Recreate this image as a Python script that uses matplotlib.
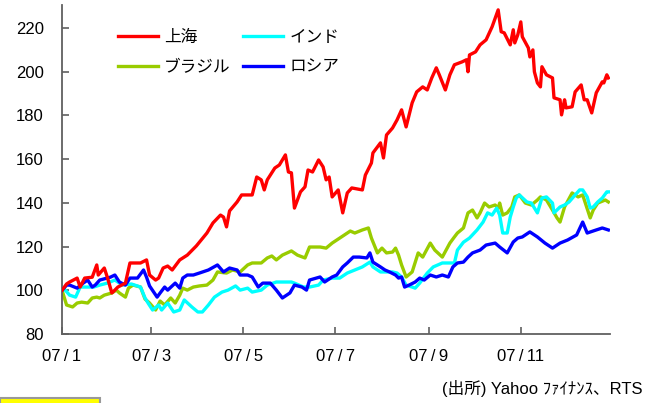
import numpy as np
import pandas as pd
import matplotlib
matplotlib.use("Agg")
import matplotlib.pyplot as plt
from matplotlib.patches import Rectangle

plt.rcParams['font.family'] = ['Liberation Sans', 'Noto Sans CJK JP', 'DejaVu Sans']

start = pd.Timestamp('2007-01-01')

# days since 2007-01-01 / index (start = 100)
sh_days = [0, 3, 5, 10, 12, 15, 20, 23, 24, 28, 30, 33, 35, 37, 42, 45, 52, 56, 58, 62,
           64, 67, 70, 73, 78, 83, 89, 96, 100, 105, 107, 109, 111, 116, 119, 126, 129, 132, 134, 136,
           141, 144, 148, 150, 152, 154, 158, 161, 163, 166, 170, 173, 175, 177, 179, 183, 186, 189, 192, 199,
           201, 205, 206, 211, 213, 215, 219, 222, 225, 228, 232, 235, 239, 242, 245, 248, 250, 254, 257, 260,
           265, 268, 269, 270, 274, 277, 281, 285, 289, 291, 293, 297, 299, 300, 302, 304, 305, 309, 310, 312,
           313, 315, 317, 318, 321, 325, 326, 330, 331, 333, 334, 338, 340, 344, 346, 348, 351, 354, 358, 359,
           361, 362]
sh_vals = [100, 102.9, 103.8, 105.6, 101.5, 105.6, 106, 111.6, 107, 110.2, 106, 98.8, 100.1, 101.5, 103.3, 112.5, 112.5, 113.9, 107, 104.7,
           105.6, 110.2, 111.1, 109.3, 113.9, 116.1, 120.3, 126.2, 130.8, 134.4, 133.5, 129, 136.3, 140.4, 143.6, 143.6, 151.8, 150.5, 145.9, 150.5,
           155.9, 157.3, 161.9, 154.1, 153.7, 137.6, 145, 147.3, 155, 154.1, 159.6, 156.4, 150.5, 151.8, 142.7, 145.9, 135.4, 144.5, 146.8, 145.9,
           152.7, 158.2, 162.8, 167.4, 160.5, 171, 174.2, 177.9, 182.5, 174.7, 185.7, 190.7, 193, 191.6, 197.1, 201.7, 198.5, 191.6, 198.5, 203.1,
           204.4, 205.4, 199.9, 207.6, 209, 212.2, 214.5, 220.5, 228.2, 218.2, 217.7, 212.2, 219.1, 213.1, 216.8, 222.7, 215.9, 210.8, 206.7, 209.9,
           199.9, 194.8, 193, 202.2, 198.5, 197.1, 188, 187.1, 180.2, 187.1, 183.4, 183.9, 190.7, 193.9, 187.1, 187.1, 181.1, 190.3, 195.3, 194.8,
           198.5, 197.1]

in_days = [0, 1, 5, 9, 12, 17, 21, 25, 30, 35, 40, 46, 52, 55, 57, 60, 64, 66, 70, 74,
           78, 81, 86, 90, 93, 97, 101, 106, 110, 115, 118, 123, 126, 132, 136, 142, 152, 154, 160, 164,
           170, 173, 179, 184, 189, 194, 199, 204, 206, 211, 219, 222, 225, 228, 232, 234, 237, 242, 246, 252,
           260, 262, 266, 270, 275, 279, 282, 285, 288, 290, 292, 295, 297, 299, 301, 303, 308, 311, 315, 318,
           321, 325, 326, 330, 333, 336, 340, 343, 345, 348, 350, 352, 355, 358, 361, 362]
in_vals = [100, 101, 97.8, 96.9, 101.5, 101.5, 101.5, 102.4, 103.3, 104.7, 102.4, 102.9, 101.5, 96.5, 94.2, 91, 93.3, 91, 94.2, 90.1,
           91, 95.6, 92.4, 90.1, 90.1, 93.3, 96.9, 99.2, 100.1, 102, 100.1, 101, 99.2, 100.1, 102.4, 103.8, 103.8, 103.3, 101.5, 101.5,
           102.4, 104.7, 105.6, 105.6, 107.9, 109.3, 110.7, 112.9, 110.7, 108.4, 108.4, 107.9, 106.1, 102.4, 101.5, 101, 103.3, 107.9, 110.7, 112.5,
           112.5, 118.4, 122, 123.9, 127.6, 131.2, 135.4, 134.4, 137.6, 134.4, 126.2, 126.2, 133.5, 138.1, 142.2, 143.6, 140.4, 139.9, 135.4, 142.2,
           142.7, 139.9, 135.4, 138.1, 139, 140.4, 143.6, 145.9, 145.9, 142.7, 137.6, 138.1, 140.4, 142.2, 145, 145]

br_days = [0, 3, 7, 10, 13, 17, 20, 23, 25, 28, 33, 36, 38, 42, 44, 47, 52, 55, 58, 62,
           65, 68, 72, 75, 78, 80, 83, 87, 91, 96, 100, 103, 109, 113, 118, 123, 126, 132, 136, 139,
           142, 146, 152, 156, 161, 164, 171, 175, 179, 186, 191, 194, 199, 203, 205, 209, 212, 215, 219, 221,
           223, 225, 228, 232, 236, 239, 244, 247, 252, 257, 260, 262, 266, 269, 272, 275, 277, 280, 283, 287,
           289, 290, 292, 295, 298, 300, 303, 307, 311, 315, 317, 321, 325, 328, 330, 333, 338, 342, 345, 350,
           352, 355, 360, 362]
br_vals = [100, 93.3, 92.4, 94.2, 94.6, 94.2, 96.5, 96.9, 96.5, 97.8, 98.8, 100.1, 98.8, 96.9, 101, 102.4, 101.5, 96, 94.2, 91,
           95.1, 93.3, 96.5, 94.2, 97.8, 101, 100.1, 101.5, 102, 102.4, 104.7, 108.4, 107.9, 109.3, 108.4, 111.6, 112.5, 112.5, 114.8, 115.7,
           113.9, 116.1, 118, 116.1, 114.8, 119.8, 119.8, 119.3, 121.6, 124.8, 127.1, 126.2, 127.6, 128.5, 123.9, 117.1, 119.3, 117.1, 117.5, 119.3,
           116.1, 111.6, 106.1, 108.4, 117.1, 115.2, 121.6, 118.4, 115.2, 121.6, 124.4, 126.2, 128.5, 135.4, 136.7, 133.1, 135.4, 139.9, 138.1, 139,
           137.6, 139.9, 134.4, 135.4, 138.1, 142.7, 143.6, 139.9, 139, 141.3, 142.7, 141.3, 136.7, 133.1, 131.2, 138.1, 144.5, 142.7, 143.6, 133.1,
           136.7, 139.9, 141.3, 140.4]

ru_days = [0, 3, 5, 10, 14, 17, 20, 22, 25, 32, 35, 38, 42, 45, 50, 54, 56, 58, 63, 65,
           68, 70, 75, 78, 80, 83, 87, 91, 97, 103, 107, 111, 116, 118, 123, 126, 130, 133, 138, 142,
           146, 151, 154, 159, 162, 164, 171, 174, 179, 182, 186, 189, 193, 197, 202, 204, 206, 211, 214, 217,
           221, 223, 225, 227, 230, 234, 237, 240, 244, 248, 252, 256, 259, 262, 266, 269, 272, 277, 281, 287,
           290, 295, 299, 302, 305, 310, 315, 320, 325, 330, 335, 341, 345, 348, 354, 358, 362]
ru_vals = [100, 102.4, 102.4, 101, 103.3, 104.7, 101.5, 102.4, 104.7, 106, 107, 103.8, 102.4, 105.6, 105.6, 109.3, 106, 102, 96.9, 98.8,
           101.5, 100.1, 103.3, 101, 105.6, 107, 107, 107.9, 109.3, 111.6, 108.4, 110.2, 109.3, 107, 107, 106.1, 101.5, 103.3, 103.3, 100.1,
           96.5, 98.8, 102.4, 101.5, 100.1, 104.7, 106.1, 103.8, 106.1, 107, 110.7, 112.5, 115.2, 115.2, 114.8, 117.1, 112.9, 110.7, 109.3, 108.4,
           107, 105.6, 106.1, 101.5, 102.4, 103.8, 105.6, 104.7, 107, 106.1, 107, 106.1, 110.7, 112.5, 112.9, 115.2, 117.1, 118.4, 120.7, 121.6,
           119.8, 117.1, 122.1, 123.9, 124.4, 126.7, 124.4, 121.6, 119.3, 121.6, 123, 125.3, 131.2, 126.2, 127.6, 128.5, 127.6]

tick_dates = ['2007-01-01', '2007-03-01', '2007-05-01', '2007-07-01', '2007-09-01', '2007-11-01']
tick_labels = ['07\u2009/\u20091', '07\u2009/\u20093', '07\u2009/\u20095',
               '07\u2009/\u20097', '07\u2009/\u20099', '07\u2009/\u200911']
y_ticks = [80, 100, 120, 140, 160, 180, 200, 220]


def to_dates(days):
    return start + pd.to_timedelta(days, unit='D')


fig = plt.figure(figsize=(6.6, 4.03), dpi=100)
ax = fig.add_axes([0.094, 0.171, 0.83, 0.817])

lw = 2.4
l_br, = ax.plot(to_dates(br_days), br_vals, c='#99cc00', lw=lw, zorder=2)
l_in, = ax.plot(to_dates(in_days), in_vals, c='#00ffff', lw=lw, zorder=3)
l_ru, = ax.plot(to_dates(ru_days), ru_vals, c='#0000ff', lw=lw, zorder=4)
l_sh, = ax.plot(to_dates(sh_days), sh_vals, c='#ff0000', lw=lw, zorder=5)

ax.set_xlim(start, start + pd.Timedelta(days=363))
ax.set_ylim(80, 230.5)
ax.set_yticks(y_ticks)
ax.set_xticks(pd.to_datetime(tick_dates))
ax.set_xticklabels(tick_labels)

for s in ['top', 'right']:
    ax.spines[s].set_visible(False)
for s in ['left', 'bottom']:
    ax.spines[s].set_color('#606060')
    ax.spines[s].set_linewidth(1.3)
ax.tick_params(axis='both', direction='in', length=5, width=1.2, color='#606060',
               labelsize=12, labelcolor='black')
ax.tick_params(axis='y', pad=13)
ax.tick_params(axis='x', pad=11)

ax.legend([l_sh, l_br, l_in, l_ru], ['上海', 'ブラジル', 'インド', 'ロシア'],
          ncol=2, frameon=False, fontsize=12, handlelength=2.4, handletextpad=0.4,
          columnspacing=0.75, labelspacing=0.9, loc='upper left',
          bbox_to_anchor=(0.074, 0.97))

fig.text(0.973, 0.035, '(出所) Yahoo ﾌｧｲﾅﾝｽ、RTS', ha='right', va='center', fontsize=12)

fig.patches.append(Rectangle((0, -0.01), 100 / 660, 0.022, transform=fig.transFigure,
                             facecolor='#ffff00', edgecolor='#999999', lw=1.5))

fig.savefig('out.png', dpi=100)
